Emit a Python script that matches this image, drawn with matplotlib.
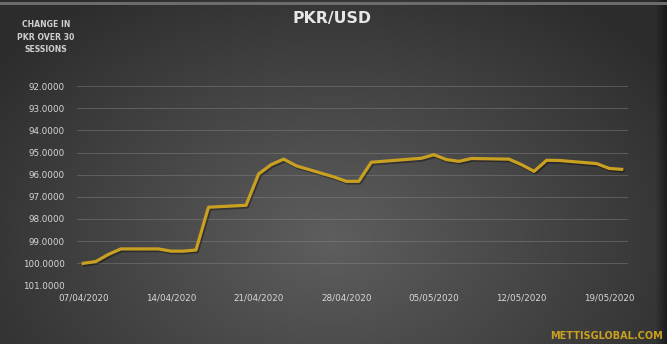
import numpy as np
import pandas as pd
import matplotlib
matplotlib.use("Agg")
import matplotlib.pyplot as plt
import matplotlib.dates as mdates
import matplotlib.patheffects as pe

dates = ["07/04/2020", "08/04/2020", "09/04/2020", "10/04/2020", "13/04/2020",
         "14/04/2020", "15/04/2020", "16/04/2020", "17/04/2020", "20/04/2020",
         "21/04/2020", "22/04/2020", "23/04/2020", "24/04/2020", "27/04/2020",
         "28/04/2020", "29/04/2020", "30/04/2020", "04/05/2020", "05/05/2020",
         "06/05/2020", "07/05/2020", "08/05/2020", "11/05/2020", "12/05/2020",
         "13/05/2020", "14/05/2020", "15/05/2020", "18/05/2020", "19/05/2020",
         "20/05/2020"]
rates = [100.00, 99.92, 99.60, 99.35, 99.35,
         99.45, 99.45, 99.40, 97.47, 97.38,
         95.97, 95.55, 95.30, 95.60, 96.10,
         96.30, 96.30, 95.44, 95.26, 95.10,
         95.32, 95.40, 95.27, 95.30, 95.55,
         95.85, 95.35, 95.36, 95.50, 95.72,
         95.76]
yticks = [92, 93, 94, 95, 96, 97, 98, 99, 100, 101]
xtick_labels = ["07/04/2020", "14/04/2020", "21/04/2020", "28/04/2020",
                "05/05/2020", "12/05/2020", "19/05/2020"]

d = pd.to_datetime(dates, format="%d/%m/%Y")
xt = pd.to_datetime(xtick_labels, format="%d/%m/%Y")

W, H = 667, 349
fig = plt.figure(figsize=(W / 100, H / 100), dpi=100)

# background gradient
bg = fig.add_axes([0, 0, 1, 1])
yy, xx = np.mgrid[0:H, 0:W]
r = np.sqrt(((xx - 330) / 420.0) ** 2 + ((yy - 240) / 300.0) ** 2)
r = np.clip(r, 0, 1)
c0 = np.array([0x5e, 0x5e, 0x5e]) / 255
c1 = np.array([0x2c, 0x2c, 0x2c]) / 255
img = c0[None, None, :] * (1 - r[..., None]) + c1[None, None, :] * r[..., None]
# darker right edge, lighter top line, white strip at bottom
img[:, 655:] *= np.linspace(1, 0.55, W - 655)[None, :, None]
img[2:5, :] = np.array([0x6c, 0x6c, 0x6c]) / 255
img[344:, :] = 1.0
bg.imshow(img, aspect="auto", extent=[0, W, H, 0])
bg.set_xlim(0, W)
bg.set_ylim(H, 0)
bg.axis("off")

# plot area
left, right = 77 / W, 628 / W
top, bottom = 86 / H, 285.5 / H
ax = fig.add_axes([left, 1 - bottom, right - left, bottom - top])
ax.patch.set_alpha(0)
ax.plot(d, rates, color="#c9a020", lw=2.3, solid_joinstyle="round",
        path_effects=[pe.SimpleLineShadow(offset=(1, -1.2), shadow_color="black", alpha=0.35),
                      pe.Normal()])
ax.set_ylim(101, 92)
ax.set_yticks(yticks)
ax.set_yticklabels([f"{v:.4f}" for v in yticks])
ax.set_xlim(d[0] - pd.Timedelta(hours=12), d[-1] + pd.Timedelta(hours=12))
ax.set_xticks(xt)
ax.set_xticklabels(xtick_labels)
ax.grid(axis="y", color="#8a8a8a", lw=0.6, alpha=0.5)
ax.set_axisbelow(True)
for s in ax.spines.values():
    s.set_visible(False)
ax.tick_params(axis="both", length=0, colors="#d8d8d8", labelsize=6.3)
ax.tick_params(axis="y", pad=9)
ax.tick_params(axis="x", pad=6)

fig.text(332 / W, 1 - 19 / H, "PKR/USD", ha="center", va="center",
         color="#e6e6e6", fontsize=11.3, fontweight="bold")
fig.text(46 / W, 1 - 37 / H, "CHANGE IN\nPKR OVER 30\nSESSIONS", ha="center", va="center",
         color="#cfcfcf", fontsize=5.6, fontweight="bold", linespacing=1.45)
fig.text(663 / W, 1 - 336 / H, "METTISGLOBAL.COM", ha="right", va="center",
         color="#c9a020", fontsize=7, fontweight="bold")

fig.savefig("out.png", dpi=100)
